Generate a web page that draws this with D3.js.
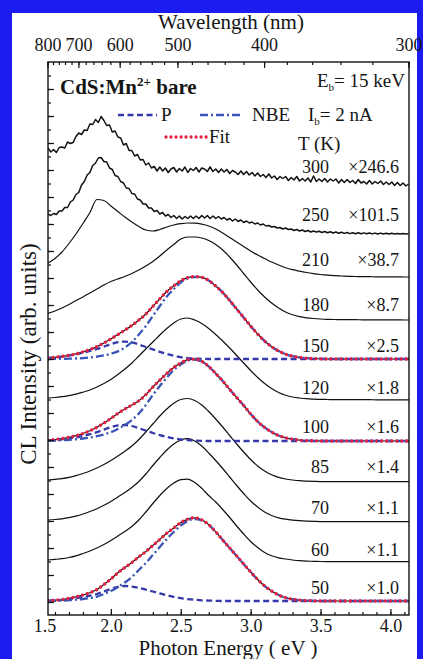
<!DOCTYPE html>
<html><head><meta charset="utf-8">
<script src="https://cdn.jsdelivr.net/npm/d3@7"></script>
<style>
body{margin:0;background:#fff}
svg{display:block}
text{font-family:"Liberation Serif","Times New Roman",serif;fill:#151515}
</style>
</head><body>
<svg id="chart" width="423" height="659"></svg>
<script>
// ---------------- data ----------------
const temps   = ["300","250","210","180","150","120","100","85","70","60","50"];
const factors = ["×246.6","×101.5","×38.7","×8.7","×2.5","×1.8","×1.6","×1.4","×1.1","×1.1","×1.0"];
const offsets = [429,381,338,295,256,215,174,133,93,53,14];   // vertical offset of each spectrum (arb. units)
const energyTicks = [1.5,2.0,2.5,3.0,3.5,4.0];
const wavelengthTicks = [800,700,600,500,400,300];
const wavelengthMinor = [800,780,760,740,720,700,680,660,640,620,600,580,560,540,520,500,480,460,440,420,400,380,360,340,320,300];

// noisy spectra, sampled every 0.02 eV from 1.55 eV
const i300 = [38,34,36.5,33.5,38.5,39,38,44,42.5,43.5,49.5,53,51.5,56,55.5,62,61.5,66.5,63.5,69.5,
  65.5,60.5,61,54,55,49,48,41,42.5,35.5,35.5,30,31.5,26,26.5,21,23,18,19.5,15,
  19,15,18,13.5,17,18.5,14,17.5,15,19,13.5,17.5,15.5,18.5,14,18,17,14.5,19,14.5,
  17,13.5,17,14,16.5,12.5,15.5,14,11.5,15,11.5,14.5,11,13.5,10,13,9.5,11.5,8.5,12,
  8,10,6.5,9.5,7.5,9.5,5.5,8.5,6,9.5,5,7.5,5,8,4,10,4.5,7,4.5,7.5,
  4,7,5,7,3,6.5,3.5,6.5,3.5,5.5,2.5,6.5,3,4.5,2,5.5,2,4.5,2.5,5,
  1.5,4,1.5,4,0.5,3.5,0.5,3,0,2];
const i250 = [20,18.5,20.5,19.5,23,23,26.5,26.5,32,34,39.5,41.5,49,52.5,59,61.5,68.5,71,76,76.5,
  72.5,72,66,64.5,58.5,57.5,52.5,51,46,45.5,40.5,40,35,34,30,30,26,26,22.5,23.5,
  20,21.5,18,19.5,16.5,18.5,15.5,18,15,17.5,15.5,18,15.5,18,15.5,18.5,16,18.5,15.5,18,
  15.5,17.5,15,16.5,14,15.5,13,15,12.5,14,11.5,13,11,12,10,11,9,10,8,8.5,
  7,7.5,6,6.5,5,6,4.5,5,3.5,4.5,3,4,2.5,3.5,2,3,2,2.8,1.5,2.5,
  1.3,2.2,1,2,0.8,1.7,0.6,1.5,0.4,1.3,0.3,1.2,0.2,1.1,0.2,1,0.1,0.9,0,0.9,
  0,0.8,0,0.7,0,0.6,0,0.5,0,0.3];

// smooth spectra, sampled every 0.05 eV from 1.55 eV to 4.15 eV
const i210 = [14,18.5,25,33.5,43,53.5,64.5,77.5,76.5,71,65.5,60,55,50.5,47,46,47.5,50,52,53.3,
  54,53.8,52.8,51,48,44,39.5,35,30.5,26,22,18.5,15,12,9.3,7.3,5.8,4.5,3.4,2.5,
  1.8,1.3,1,0.7,0.5,0.4,0.3,0.2,0.2,0.1,0.1,0,0];
const i180 = [6.5,9,12,15.5,19.5,23,27,31,35,38.5,41,43.5,46.5,50,54,58.5,64,70,75.5,81,
  83,83,82,79.5,75.5,70,63,55,46.5,38,30,23,17,12,8,5.2,3.3,2.2,1.5,1,
  0.7,0.5,0.4,0.3,0.3,0.2,0.2,0.2,0.1,0.1,0.1,0,0];
const i150 = [1,1.7,2.6,3.7,5.1,7.1,9.5,12.4,16,20.1,24.4,28.9,33.6,39,45,52.6,60.2,67.5,73.2,78.3,
  81.4,82.4,81.7,78.5,73,66.5,58.5,50,41.5,33,25,18,12.3,8,4.8,2.8,1.5,0.8,0.4,0.2,
  0,0,0,0,0,0,0,0,0,0,0,0,0];
const i120 = [2,2.5,3.3,4.3,5.8,7.8,10,13,16.5,20.5,25.5,31,37,44,51,58,65,71.5,77,81,
  82,80,76.5,71.5,65.5,59,52,44.5,37,29.5,22.5,16.5,11.5,7.5,4.8,3,2,1.3,0.9,0.6,
  0.5,0.4,0.4,0.3,0.3,0.3,0.3,0.2,0.2,0.2,0.2,0.2,0.2];
const i100 = [0.9,1.5,2.4,3.7,5.3,7.5,10.3,13.7,17.9,22.6,27.6,32,36,40.3,46.4,54,60.9,67.6,73.6,78,
  81.3,81.9,79.7,74.5,67.5,60,51.5,43.5,35.5,27,19.5,13.5,9,5.5,3.2,1.8,0.9,0.4,0.2,0,
  0,0,0,0,0,0,0,0,0,0,0,0,0];
const i85 = [2,2.6,3.4,4.6,6.3,8.5,11,14,17.5,21.5,26,30.8,36,42.5,50,58,66,73,78.8,82.5,
  83.5,81.5,77,70.5,63,55,46.5,38,30,22.5,16,11,7.2,4.6,3,2,1.3,0.9,0.6,0.4,
  0.3,0.3,0.3,0.3,0.3,0.3,0.3,0.3,0.3,0.3,0.3,0.3,0.3];
const i70 = [2,2.5,3.2,4.3,5.9,8,10.5,13.3,16.7,20.5,25,29.5,34.5,40.5,48,56.5,64.5,72,78,82,
  83.3,81,76,69,61.5,53.5,45,36.5,28.5,21,15,10,6.5,4.2,2.8,1.9,1.3,0.9,0.6,0.4,
  0.3,0.3,0.3,0.3,0.3,0.3,0.3,0.3,0.3,0.3,0.3,0.3,0.3];
const i60 = [2,2.6,3.3,4.5,6.2,8.5,11,14,17.5,21.5,26,30.5,35.5,42,50,58.5,66.5,73.5,79,82.3,
  82.8,79.5,73.8,66.5,60,52.5,44.5,36,28,20.5,14.5,9.5,6.2,4.2,3,2,1.3,0.9,0.7,0.5,
  0.4,0.4,0.4,0.3,0.3,0.3,0.3,0.3,0.3,0.3,0.3,0.3,0.3];
const i50 = [0.3,0.8,1.5,2.7,4.2,6,8.3,11.4,16.5,22,28.2,33.5,38.4,44.2,49.4,55.5,61.6,67.8,73.1,78.4,
  81.9,83.2,81.2,76.4,69.2,61,53,45,37,29,21.5,15,10,6,3.3,1.8,0.9,0.4,0.2,0,
  0,0,0,0,0,0,0,0,0,0,0,0,0];

// fit components (P = dashed, NBE = dash-dot), same 0.05 eV grid
const p150   = [1,1.6,2.4,3.4,4.6,6.2,8,10,12.4,14.8,16.8,17.4,16.6,14.5,12,9.6,7.2,5,3.2,1.8,
  0.9,0.4,0.2,0,0,0,0,0,0,0,0,0,0,0,0,0,0,0,0,0,0,0,0,0,0,0,0,0,0,0,0,0,0];
const nbe150 = [0,0.1,0.2,0.3,0.5,0.9,1.5,2.4,3.6,5.3,7.6,11.5,17,24.5,33,43,53,62.5,70,76.5,
  80.5,82,81.5,78.5,73,66.5,58.5,50,41.5,33,25,18,12.3,8,4.8,2.8,1.5,0.8,0.4,0.2,
  0,0,0,0,0,0,0,0,0,0,0,0,0];
const p100   = [0.7,1.1,1.7,2.6,3.6,5,6.8,8.9,11.4,13.8,15.6,16,15,12.8,10.4,8,5.9,4.1,2.6,1.5,
  0.8,0.4,0.2,0,0,0,0,0,0,0,0,0,0,0,0,0,0,0,0,0,0,0,0,0,0,0,0,0,0,0,0,0,0];
const nbe100 = [0.2,0.4,0.7,1.1,1.7,2.5,3.5,4.8,6.5,8.8,12,16,21,27.5,36,46,55,63.5,71,76.5,
  80.5,81.5,79.5,74.5,67.5,60,51.5,43.5,35.5,27,19.5,13.5,9,5.5,3.2,1.8,0.9,0.4,0.2,0,
  0,0,0,0,0,0,0,0,0,0,0,0,0];
const p50    = [0.3,0.6,1.1,1.9,2.9,4,5.3,7,9.5,12,14.2,15,14.4,13.2,11.4,9.5,7.6,5.8,4.1,2.9,
  1.9,1.2,0.7,0.4,0.2,0,0,0,0,0,0,0,0,0,0,0,0,0,0,0,0,0,0,0,0,0,0,0,0,0,0,0,0];
const nbe50  = [0,0.2,0.4,0.8,1.3,2,3,4.4,7,10,14,18.5,24,31,38,46,54,62,69,75.5,
  80,82,80.5,76,69,61,53,45,37,29,21.5,15,10,6,3.3,1.8,0.9,0.4,0.2,0,
  0,0,0,0,0,0,0,0,0,0,0,0,0];

const spectra = [i300,i250,i210,i180,i150,i120,i100,i85,i70,i60,i50];
const fits = [
  {index:4, fit:i150, p:p150, nbe:nbe150},
  {index:6, fit:i100, p:p100, nbe:nbe100},
  {index:10, fit:i50, p:p50, nbe:nbe50}
];

// ---------------- layout ----------------
const svg = d3.select("#chart");
const W = 423, H = 659;
const m = {left:48, right:409, top:62, bottom:615};
const x = d3.scaleLinear().domain([1.55, 4.133]).range([m.left, m.right]);
const y = d3.scaleLinear().domain([0, 553]).range([m.bottom, m.top]);
const hc = 1239.84;

// blue frame (bottom edge of the figure is cropped)
svg.append("rect").attr("width",W).attr("height",H).attr("fill","#1c1cf0");
svg.append("rect").attr("x",12).attr("y",13).attr("width",405).attr("height",H-13).attr("fill","#fff");

svg.append("defs").append("clipPath").attr("id","clip")
  .append("rect").attr("x",m.left).attr("y",m.top).attr("width",m.right-m.left).attr("height",m.bottom-m.top);

const plot = svg.append("g").attr("clip-path","url(#clip)");

function gridOf(arr){
  const step = arr.length > 60 ? 0.02 : 0.05;
  return arr.map((v,i)=>[1.55 + step*i, v]);
}
function lineFor(off, curve){
  return d3.line().x(d=>x(d[0])).y(d=>y(off + d[1])).curve(curve);
}

// data curves
spectra.forEach((arr,i)=>{
  const noisy = arr.length > 60;
  plot.append("path").datum(gridOf(arr))
    .attr("d", lineFor(offsets[i], noisy ? d3.curveLinear : d3.curveMonotoneX))
    .attr("fill","none").attr("stroke","#111")
    .attr("stroke-width", noisy ? 1.5 : 1.2)
    .attr("stroke-linejoin","round");
});

// fits
fits.forEach(f=>{
  const off = offsets[f.index];
  plot.append("path").datum(gridOf(f.p))
    .attr("d", lineFor(off, d3.curveMonotoneX))
    .attr("fill","none").attr("stroke","#3438a8").attr("stroke-width",2.3)
    .attr("stroke-dasharray","6,3.5");
  plot.append("path").datum(gridOf(f.nbe))
    .attr("d", lineFor(off, d3.curveMonotoneX))
    .attr("fill","none").attr("stroke","#3a55b5").attr("stroke-width",2.3)
    .attr("stroke-dasharray","8,3,2,3");
  plot.append("path").datum(gridOf(f.fit))
    .attr("d", lineFor(off, d3.curveMonotoneX))
    .attr("fill","none").attr("stroke","#e3203f").attr("stroke-width",3.3)
    .attr("stroke-linecap","round").attr("stroke-dasharray","0.01,5");
});

// axes frame
svg.append("rect").attr("x",m.left).attr("y",m.top).attr("width",m.right-m.left).attr("height",m.bottom-m.top)
  .attr("fill","none").attr("stroke","#111").attr("stroke-width",1.4);

// bottom axis
const minorE = d3.range(16,42).map(k=>k/10);
const gx = svg.append("g").attr("transform",`translate(0,${m.bottom})`);
gx.call(d3.axisBottom(x).tickValues(minorE).tickSize(-3).tickFormat(""));
const gxm = svg.append("g").attr("transform",`translate(0,${m.bottom})`);
gxm.call(d3.axisBottom(x).tickValues(energyTicks).tickSize(-6).tickPadding(4).tickFormat(d3.format(".1f")));
[gx,gxm].forEach(g=>{g.select(".domain").remove(); g.selectAll("line").attr("stroke","#111").attr("stroke-width",1.2);});
gxm.selectAll("text").style("font-family","Liberation Serif").style("font-size","18px").attr("fill","#151515");
gxm.selectAll(".tick").filter(d=>d<1.55).attr("transform","translate(45,0)").select("line").remove();

// left axis ticks
const gy = svg.append("g").attr("transform",`translate(${m.left},0)`);
gy.call(d3.axisLeft(y).tickValues(d3.range(13,553,13.5)).tickSize(-3).tickFormat(""));
const gy2 = svg.append("g").attr("transform",`translate(${m.left},0)`);
gy2.call(d3.axisLeft(y).tickValues(d3.range(13,553,27)).tickSize(-6).tickFormat(""));
[gy,gy2].forEach(g=>{g.select(".domain").remove(); g.selectAll("line").attr("stroke","#111").attr("stroke-width",1.2);});

// top axis (wavelength)
const gTop = svg.append("g");
gTop.selectAll("line.minor").data(wavelengthMinor).join("line").attr("class","minor")
  .attr("x1",d=>x(hc/d)).attr("x2",d=>x(hc/d)).attr("y1",m.top).attr("y2",m.top+3)
  .attr("stroke","#111").attr("stroke-width",1.2);
gTop.selectAll("line.major").data(wavelengthTicks).join("line").attr("class","major")
  .attr("x1",d=>x(hc/d)).attr("x2",d=>x(hc/d)).attr("y1",m.top).attr("y2",m.top+6)
  .attr("stroke","#111").attr("stroke-width",1.2);
gTop.selectAll("text").data(wavelengthTicks).join("text")
  .attr("x",d=>x(hc/d)).attr("y",51).attr("text-anchor","middle")
  .style("font-size","18px").text(d=>d);

// axis titles
svg.append("text").attr("x",231).attr("y",29).attr("text-anchor","middle").style("font-size","21px").text("Wavelength (nm)");
svg.append("text").attr("x",228).attr("y",655).attr("text-anchor","middle").style("font-size","21px").text("Photon Energy ( eV )");
svg.append("text").attr("transform","translate(36,354) rotate(-90)").attr("text-anchor","middle")
  .style("font-size","23px").text("CL Intensity (arb. units)");

// annotations
const t1 = svg.append("text").attr("x",60).attr("y",94).style("font-size","21px").style("font-weight","bold");
t1.append("tspan").text("CdS:Mn");
t1.append("tspan").attr("dy",-8).style("font-size","13px").text("2+");
t1.append("tspan").attr("dy",8).text(" bare");

const eb = svg.append("text").attr("x",317).attr("y",87).style("font-size","19px");
eb.append("tspan").text("E");
eb.append("tspan").attr("dy",4).style("font-size","11px").text("b");
eb.append("tspan").attr("dy",-4).text("= 15 keV");
const ib = svg.append("text").attr("x",308).attr("y",121).style("font-size","19px");
ib.append("tspan").text("I");
ib.append("tspan").attr("dy",4).style("font-size","11px").text("b");
ib.append("tspan").attr("dy",-4).text("= 2 nA");

svg.append("text").attr("x",298).attr("y",150).style("font-size","19px").text("T (K)");

// legend
svg.append("line").attr("x1",118).attr("x2",157).attr("y1",115).attr("y2",115)
  .attr("stroke","#3438a8").attr("stroke-width",2.3).attr("stroke-dasharray","6,3.5");
svg.append("text").attr("x",161).attr("y",121).style("font-size","19px").text("P");
svg.append("line").attr("x1",200).attr("x2",241).attr("y1",115).attr("y2",115)
  .attr("stroke","#3a55b5").attr("stroke-width",2.3).attr("stroke-dasharray","8,3,2,3");
svg.append("text").attr("x",252).attr("y",121).style("font-size","19px").text("NBE");
svg.append("line").attr("x1",166).attr("x2",207).attr("y1",137).attr("y2",137)
  .attr("stroke","#e3203f").attr("stroke-width",3.3).attr("stroke-linecap","round").attr("stroke-dasharray","0.01,5");
svg.append("text").attr("x",209).attr("y",143).style("font-size","19px").text("Fit");

// temperature & factor labels
const lift = [13,13,11,9,7,6,8,9,8,6,7];
temps.forEach((t,i)=>{
  svg.append("text").attr("x",329).attr("y",y(offsets[i])-lift[i]).attr("text-anchor","end")
    .style("font-size","18px").text(t);
  svg.append("text").attr("x",399).attr("y",y(offsets[i])-lift[i]).attr("text-anchor","end")
    .style("font-size","18px").text(factors[i]);
});
</script>
</body></html>
